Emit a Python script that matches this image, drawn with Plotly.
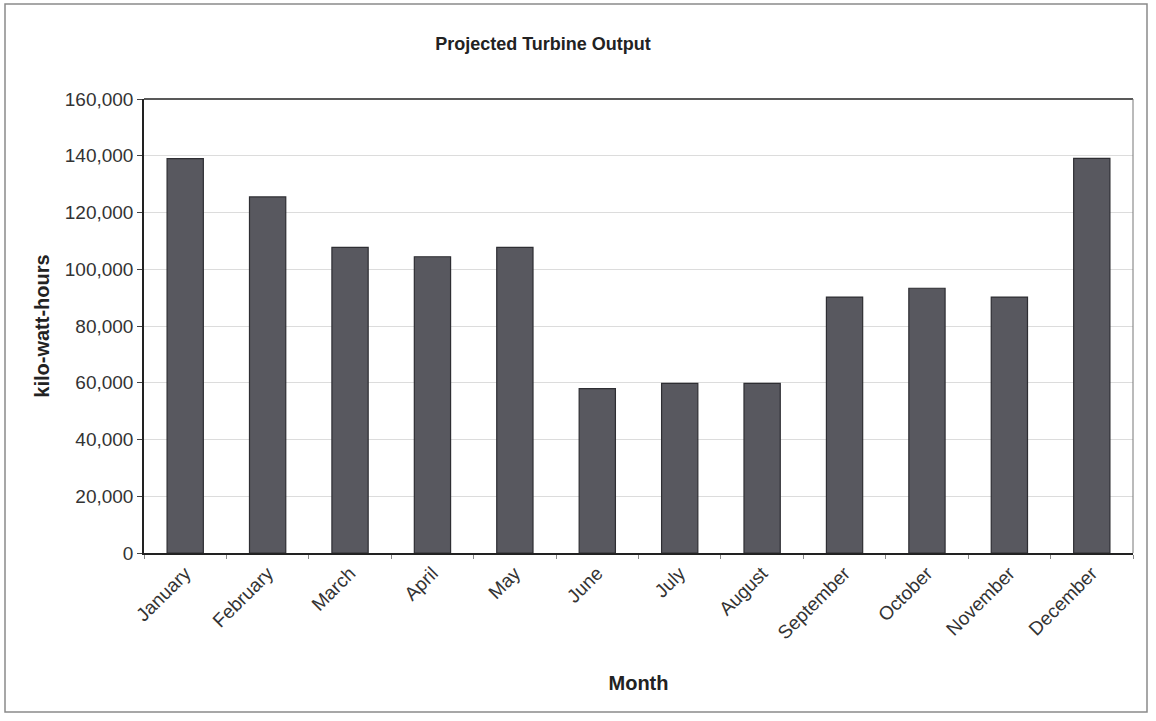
import plotly.graph_objects as go

months = ["January", "February", "March", "April", "May", "June",
          "July", "August", "September", "October", "November", "December"]
output_kwh = [139000, 125500, 107700, 104400, 107700, 57900,
              59800, 59800, 90200, 93300, 90200, 139100]
y_ticks = [0, 20000, 40000, 60000, 80000, 100000, 120000, 140000, 160000]
y_tick_labels = ["0", "20,000", "40,000", "60,000", "80,000", "100,000",
                 "120,000", "140,000", "160,000"]

FONT = "Liberation Sans, Arial, sans-serif"

fig = go.Figure()
fig.add_trace(go.Bar(
    x=months, y=output_kwh,
    marker=dict(color="#58585f", line=dict(color="#2e2e33", width=1.2)),
))

fig.update_layout(
    width=1156, height=721,
    margin=dict(l=144, r=23, t=99, b=168),
    paper_bgcolor="white", plot_bgcolor="white",
    bargap=0.56,
    showlegend=False,
    font=dict(family=FONT, color="#2a2a2a"),
    title=dict(text="<b>Projected Turbine Output</b>", x=543 / 1156, xanchor="center",
               y=1 - 44 / 721, yanchor="middle", yref="container",
               font=dict(size=18, family=FONT, color="#222")),
)

fig.update_xaxes(
    type="category",
    tickangle=-45,
    tickfont=dict(size=19, family=FONT, color="#333"),
    ticks="outside", tickson="boundaries", ticklen=4, tickcolor="#888",
    showline=True, linecolor="#222", linewidth=1.5, mirror=False,
    showgrid=False,
    title=dict(text="<b>Month</b>", font=dict(size=20, family=FONT, color="#222"), standoff=34),
)
fig.update_yaxes(
    range=[0, 160000],
    tickvals=y_ticks, ticktext=y_tick_labels,
    tickfont=dict(size=19, family=FONT, color="#333"),
    ticks="outside", ticklen=5, tickcolor="#444",
    showline=True, linecolor="#222", linewidth=1.5,
    showgrid=True, gridcolor="#dcdcdc", gridwidth=1,
    zeroline=False,
    title=dict(text="<b>kilo-watt-hours</b>", font=dict(size=20, family=FONT, color="#222"), standoff=10),
)

# plot frame: dark top, thin right
fig.add_shape(type="line", xref="paper", yref="paper", x0=0, x1=1, y0=1, y1=1,
              line=dict(color="#222", width=1.5))
fig.add_shape(type="line", xref="paper", yref="paper", x0=1, x1=1, y0=0, y1=1,
              line=dict(color="#777", width=1))
# outer chart border
fig.add_shape(type="rect", xref="paper", yref="paper",
              x0=(5 - 144) / 989, x1=(1147 - 144) / 989,
              y0=-(712 - 553) / 454, y1=1 + (99 - 4) / 454,
              line=dict(color="#8a8a8a", width=1.5))

fig.write_html("out.html", config={"displayModeBar": False},
               post_script="document.body.style.margin='0';document.body.style.overflow='hidden';")
